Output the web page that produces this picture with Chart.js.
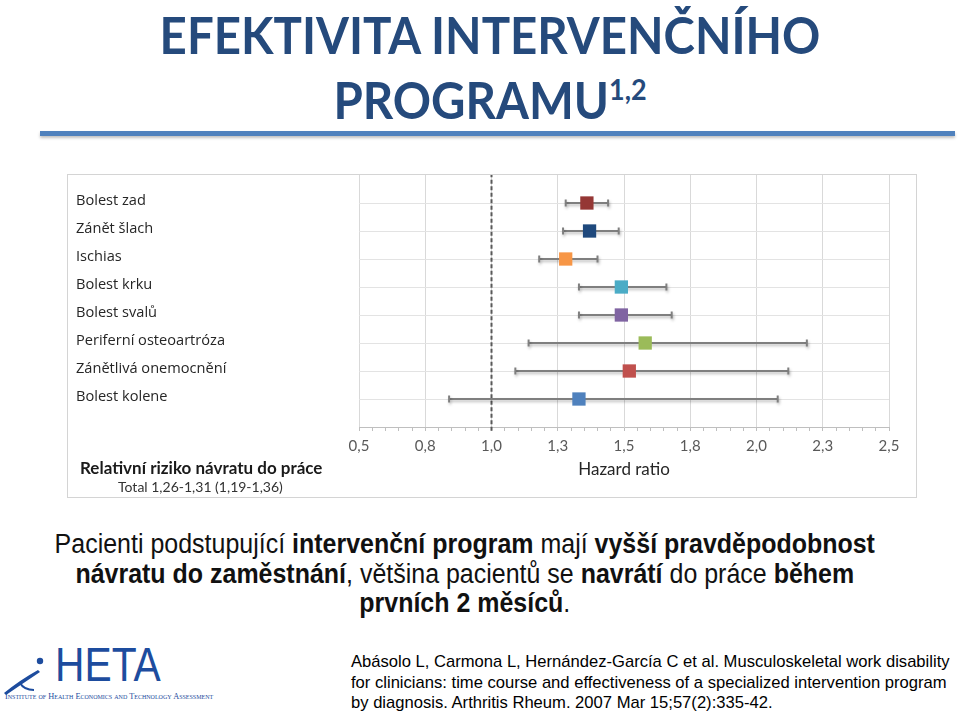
<!DOCTYPE html>
<html>
<head>
<meta charset="utf-8">
<script src="https://cdn.jsdelivr.net/npm/chart.js@4.4.1/dist/chart.umd.min.js"></script>
<style>
    body { margin: 0; width: 960px; height: 714px; background: #fff; position: relative; overflow: hidden; font-family: "Liberation Sans", Arial, sans-serif; }
    .title { position: absolute; left: 0; width: 980px; text-align: center; color: #254a7c; font-family: Lato, sans-serif; font-weight: bold; font-size: 51px; line-height: 65px; top: 2px; transform: scaleX(0.93); transform-origin: 490px 0; }
    .title sup { font-size: 29px; vertical-align: 19px; line-height: 0; }
    .rule { position: absolute; left: 40px; top: 131px; width: 915px; height: 5px; background: #4f81bd; box-shadow: 0 2px 3px rgba(0,0,0,0.25); }
    .box { position: absolute; left: 67px; top: 174px; width: 848px; height: 322px; border: 1px solid #d4d4d4; }
    .box canvas { position: absolute; left: 0; top: 0; }
    .rr { position: absolute; left: 12px; top: 282px; font-family: Lato, sans-serif; font-weight: bold; font-size: 17px; color: #1a1a1a; white-space: nowrap; }
    .total { position: absolute; left: 50px; top: 303px; font-family: Lato, sans-serif; font-size: 14px; color: #333; white-space: nowrap; }
    .body { position: absolute; left: 0; width: 930px; top: 530px; text-align: center; font-size: 27px; line-height: 29.5px; color: #111; white-space: nowrap; transform: scaleX(0.925); transform-origin: 462px 0; }
    .ref { position: absolute; left: 351px; top: 652px; font-size: 16.6px; line-height: 20.5px; color: #000; white-space: nowrap; }
    .heta { position: absolute; left: 55px; top: 640px; font-size: 48px; line-height: 50px; color: #1d4c9e; transform: scaleX(0.85); transform-origin: 0 0; }
    .inst { position: absolute; left: 5px; top: 692px; font-family: "Liberation Serif", serif; font-variant: small-caps; font-size: 8.3px; color: #1d4c9e; white-space: nowrap; }
    .swoosh { position: absolute; left: 0; top: 650px; }
</style>
</head>
<body>
<div class="title">EFEKTIVITA INTERVENČNÍHO<br>PROGRAMU<sup>1,2</sup></div>
<div class="rule"></div>

<div class="box">
    <canvas id="forest" width="848" height="322"></canvas>
    <div class="rr">Relativní riziko návratu do práce</div>
    <div class="total">Total 1,26-1,31 (1,19-1,36)</div>
</div>

<div class="body">Pacienti podstupující <b>intervenční program</b> mají <b>vyšší pravděpodobnost</b><br>
<b>návratu do zaměstnání</b>, většina pacientů se <b>navrátí</b> do práce <b>během</b><br>
<b>prvních 2 měsíců</b>.</div>

<div class="ref">Abásolo L, Carmona L, Hernández-García C et al. Musculoskeletal work disability<br>
for clinicians: time course and effectiveness of a specialized intervention program<br>
by diagnosis. Arthritis Rheum. 2007 Mar 15;57(2):335-42.</div>

<svg class="swoosh" width="60" height="45">
    <circle cx="40" cy="11" r="3.2" fill="#1d4c9e"/>
    <path d="M4 43 Q20 30 38 20 L40 22 Q22 34 6 45 Z" fill="#1d4c9e"/>
    <path d="M20 33 Q24 40 34 40" stroke="#1d4c9e" stroke-width="2" fill="none"/>
</svg>
<div class="heta">HETA</div>
<div class="inst">Institute of Health Economics and Technology Assessment</div>

<script>
const categories = [
    'Bolest zad',
    'Zánět šlach',
    'Ischias',
    'Bolest krku',
    'Bolest svalů',
    'Periferní osteoartróza',
    'Zánětlivá onemocnění',
    'Bolest kolene'
];
const hazardRatio = [1.36, 1.37, 1.28, 1.49, 1.49, 1.58, 1.52, 1.33];
const ciLow = [1.28, 1.27, 1.18, 1.33, 1.33, 1.14, 1.09, 0.84];
const ciHigh = [1.44, 1.48, 1.40, 1.66, 1.68, 2.19, 2.12, 2.08];
const markerColors = ['#953735', '#1f497d', '#f79646', '#4bacc6', '#8064a2', '#9bbb59', '#c0504d', '#4f81bd'];
const xMin = 0.5;
const xMax = 2.5;
const refLine = 1.0;

const n = categories.length;
// horní řádek nahoře -> y = n ... 1
const rowY = categories.map((c, i) => n - i);

const isMajor = v => Math.abs(v * 4 - Math.round(v * 4)) < 1e-6;

const errorDatasets = categories.map((c, i) => ({
    type: 'line',
    data: [{ x: ciLow[i], y: rowY[i] }, { x: ciHigh[i], y: rowY[i] }],
    borderColor: '#7f7f7f',
    borderWidth: 2,
    pointStyle: 'line',
    pointRotation: 90,
    pointRadius: 3.5,
    pointBorderWidth: 2,
    pointBorderColor: '#7f7f7f',
    shadow: true,
    order: 1
}));

const shadowPlugin = {
    id: 'shadow',
    beforeDatasetDraw(chart, args) {
        if (!chart.data.datasets[args.index].shadow) return;
        const ctx = chart.ctx;
        ctx.save();
        ctx.shadowColor = 'rgba(0,0,0,0.28)';
        ctx.shadowBlur = 3;
        ctx.shadowOffsetX = 1;
        ctx.shadowOffsetY = 2;
    },
    afterDatasetDraw(chart, args) {
        if (!chart.data.datasets[args.index].shadow) return;
        chart.ctx.restore();
    }
};

new Chart(document.getElementById('forest').getContext('2d'), {
    type: 'scatter',
    data: {
        datasets: [
            {
                type: 'scatter',
                data: categories.map((c, i) => ({ x: hazardRatio[i], y: rowY[i] })),
                pointStyle: 'rect',
                pointRadius: 9.4,
                pointHoverRadius: 9.4,
                backgroundColor: markerColors,
                borderWidth: 0,
                order: 0
            },
            ...errorDatasets,
            {
                type: 'line',
                data: [{ x: refLine, y: -0.13 }, { x: refLine, y: n + 1 }],
                borderColor: '#595959',
                borderWidth: 2,
                borderDash: [4, 2.5],
                pointRadius: 0,
                clip: false,
                order: 2
            }
        ]
    },
    options: {
        responsive: false,
        animation: false,
        layout: { autoPadding: false, padding: { left: 8, right: 27, top: 0, bottom: 0 } },
        plugins: {
            legend: { display: false },
            tooltip: { enabled: false }
        },
        scales: {
            x: {
                type: 'linear',
                min: xMin,
                max: xMax,
                grid: {
                    color: ctx => (ctx.tick && isMajor(ctx.tick.value)) ? '#d9d9d9' : 'rgba(0,0,0,0)',
                    tickColor: '#bfbfbf',
                    tickLength: 4,
                    lineWidth: 1
                },
                border: { display: true, color: '#bfbfbf', width: 1 },
                ticks: {
                    stepSize: 0.05,
                    autoSkip: false,
                    maxRotation: 0,
                    padding: 6,
                    color: '#595959',
                    font: { family: 'Lato', size: 15 },
                    callback: v => isMajor(v) ? v.toFixed(1).replace('.', ',') : ''
                },
                title: {
                    display: true,
                    text: 'Hazard ratio',
                    color: '#262626',
                    font: { family: 'Lato', size: 17 },
                    padding: { top: 0, bottom: 17 }
                },
                afterFit: scale => { scale.height = 70; }
            },
            y: {
                type: 'linear',
                min: 0,
                max: n + 1,
                grid: { color: '#e3e3e3', drawTicks: false },
                border: { display: false },
                ticks: {
                    stepSize: 1,
                    crossAlign: 'far',
                    labelOffset: -2,
                    color: '#262626',
                    font: { family: 'Open Sans', size: 14.6 },
                    callback: v => (v >= 1 && v <= n) ? categories[n - v] : null
                },
                afterFit: scale => {
                    scale.width = 283;
                    scale.paddingTop = 0;
                    scale.paddingBottom = 0;
                }
            }
        }
    },
    plugins: [shadowPlugin]
});
</script>
</body>
</html>
